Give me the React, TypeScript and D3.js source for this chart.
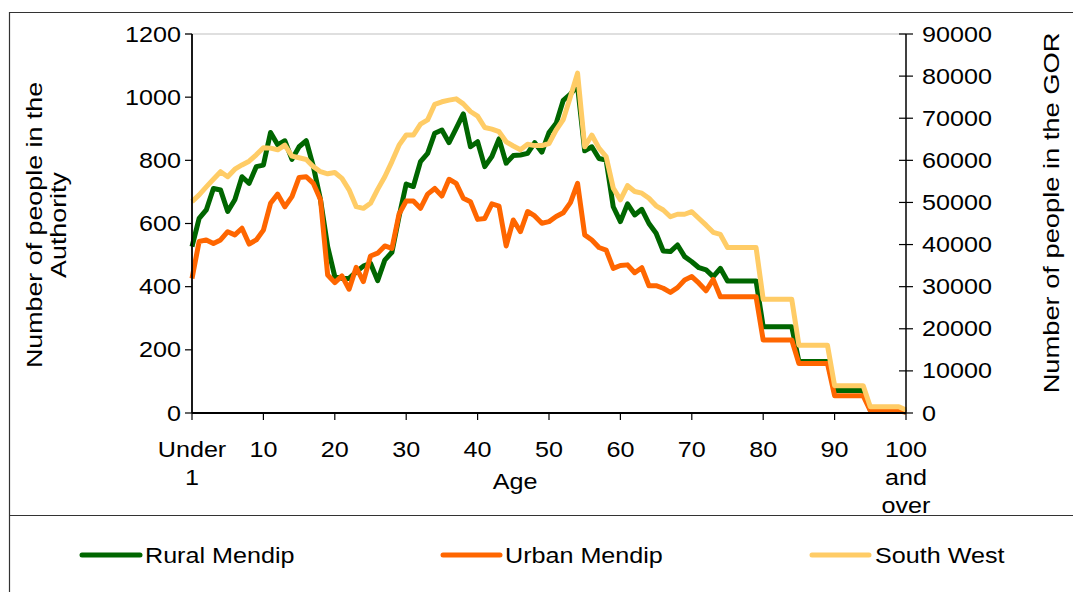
import React from "react";
import * as d3 from "d3";

const ages: number[] = Array.from({ length: 101 }, (_, i) => i);

const xTickAges = [0, 10, 20, 30, 40, 50, 60, 70, 80, 90, 100];
const xTickLabels: string[][] = [
  ["Under", "1"], ["10"], ["20"], ["30"], ["40"], ["50"], ["60"], ["70"], ["80"], ["90"], ["100", "and", "over"],
];
const leftTicks = [0, 200, 400, 600, 800, 1000, 1200];
const rightTicks = [0, 10000, 20000, 30000, 40000, 50000, 60000, 70000, 80000, 90000];

const ruralMendip: number[] = [
  527, 616, 643, 711, 706, 638, 675, 748, 727, 780,
  785, 888, 849, 862, 803, 843, 862, 780, 675, 527,
  432, 426, 426, 447, 465, 474, 419, 484, 509, 622,
  725, 717, 796, 822, 886, 896, 856, 901, 947, 843,
  859, 780, 812, 868, 791, 815, 817, 822, 856, 826,
  888, 917, 990, 1010, 1035, 830, 843, 806, 801, 653,
  606, 662, 627, 645, 600, 569, 513, 511, 532, 495,
  479, 460, 453, 432, 458, 418, 418, 418, 418, 418,
  273, 273, 273, 273, 273, 163, 163, 163, 163, 163,
  71, 71, 71, 71, 71, 10, 10, 10, 10, 10,
  3,
];

const urbanMendip: number[] = [
  426, 543, 548, 537, 548, 574, 564, 585, 535, 548,
  579, 664, 693, 653, 685, 746, 748, 727, 675, 437,
  413, 434, 392, 461, 416, 497, 506, 529, 521, 630,
  671, 671, 648, 693, 711, 687, 740, 727, 680, 669,
  613, 616, 662, 655, 529, 611, 574, 638, 624, 601,
  606, 622, 634, 666, 727, 564, 548, 524, 516, 458,
  467, 469, 444, 460, 403, 403, 395, 382, 397, 421,
  432, 411, 387, 423, 368, 368, 368, 368, 368, 368,
  231, 231, 231, 231, 231, 157, 157, 157, 157, 157,
  55, 55, 55, 55, 55, 7, 7, 7, 7, 7,
  2,
];

const southWest: number[] = [
  50200, 51800, 53700, 55500, 57300, 56100, 57900, 58900, 59800, 61300,
  63000, 62900, 62500, 63600, 61000, 60600, 60200, 58500, 57300, 56800,
  57100, 55700, 53000, 49000, 48600, 49800, 53100, 56100, 59700, 63600,
  66000, 66000, 68600, 69600, 73300, 73900, 74300, 74600, 73400, 71600,
  70500, 67800, 67400, 66800, 64400, 63400, 62500, 63800, 63500, 63500,
  64000, 67200, 69700, 75100, 80700, 63200, 66000, 62900, 60900, 53400,
  50600, 54000, 52600, 52200, 51000, 49200, 48200, 46600, 47200, 47200,
  47800, 46200, 44600, 42900, 42400, 39300, 39300, 39300, 39300, 39300,
  27000, 27000, 27000, 27000, 27000, 16100, 16100, 16100, 16100, 16100,
  6500, 6500, 6500, 6500, 6500, 1500, 1500, 1500, 1500, 1500,
  700,
];

const seriesNames = ["Rural Mendip", "Urban Mendip", "South West"];
const seriesColors = ["#006600", "#FF6600", "#FFCC66"];

const W = 1073;
const H = 592;
const L = 192, R = 906, T = 34, B = 413;
const FONT = "'Liberation Sans', Arial, sans-serif";

function Txt(props: { x: number; y: number; anchor?: string; rotate?: number; fs?: number; sx?: number; children: React.ReactNode }) {
  const { x, y, anchor = "start", rotate = 0, fs = 21.5, sx = 1.17, children } = props;
  return (
    <text
      transform={`translate(${x},${y}) rotate(${rotate}) scale(${sx},1)`}
      textAnchor={anchor as any}
      fontFamily={FONT}
      fontSize={fs}
      fill="#000"
    >
      {children}
    </text>
  );
}

export default function App() {
  const x = d3.scaleLinear().domain([0, 100]).range([L, R]);
  const yL = d3.scaleLinear().domain([0, 1200]).range([B, T]);
  const yR = d3.scaleLinear().domain([0, 90000]).range([B, T]);

  const lineL = d3.line<number>().x((_, i) => x(ages[i])).y((d) => yL(d));
  const lineR = d3.line<number>().x((_, i) => x(ages[i])).y((d) => yR(d));

  const paths = [
    { d: lineL(ruralMendip) || "", c: seriesColors[0] },
    { d: lineL(urbanMendip) || "", c: seriesColors[1] },
    { d: lineR(southWest) || "", c: seriesColors[2] },
  ];

  const legendItems = [
    { x1: 82, x2: 140, tx: 145 },
    { x1: 443, x2: 500, tx: 505 },
    { x1: 812, x2: 869, tx: 875 },
  ];

  return (
    <svg width={W} height={H} style={{ position: "absolute", left: 0, top: 0 }}>
      <rect x={0} y={0} width={W} height={H} fill="#fff" />
      {/* outer frame */}
      <line x1={9.5} y1={12} x2={9.5} y2={H} stroke="#333" strokeWidth={1.2} />
      <line x1={9} y1={12.5} x2={W} y2={12.5} stroke="#333" strokeWidth={1.2} />
      <line x1={9} y1={515.5} x2={W} y2={515.5} stroke="#333" strokeWidth={1.2} />

      {/* plot top border */}
      <line x1={185} y1={T} x2={R} y2={T} stroke="#c0c0c0" strokeWidth={1.2} />

      {/* series */}
      {paths.map((p, i) => (
        <path key={i} d={p.d} fill="none" stroke={p.c} strokeWidth={5} strokeLinejoin="round" />
      ))}

      {/* left axis */}
      <line x1={L} y1={T} x2={L} y2={B} stroke="#000" strokeWidth={1.8} />
      {leftTicks.map((t) => (
        <g key={t}>
          <line x1={185} x2={L} y1={yL(t)} y2={yL(t)} stroke="#000" strokeWidth={1.2} />
          <Txt x={181} y={yL(t) + 7.5} anchor="end">{t}</Txt>
        </g>
      ))}

      {/* right axis */}
      <line x1={R} y1={T} x2={R} y2={B} stroke="#000" strokeWidth={1.5} />
      {rightTicks.map((t) => (
        <g key={t}>
          <line x1={R - 7} x2={R + 7} y1={yR(t)} y2={yR(t)} stroke="#000" strokeWidth={1.2} />
          <Txt x={922} y={yR(t) + 7.5}>{t}</Txt>
        </g>
      ))}

      {/* x axis */}
      <line x1={L} y1={B} x2={R} y2={B} stroke="#000" strokeWidth={1.8} />
      {xTickAges.map((a, i) => (
        <g key={a}>
          <line x1={x(a)} x2={x(a)} y1={B} y2={B + 7} stroke="#000" strokeWidth={1.2} />
          {xTickLabels[i].map((s, j) => (
            <Txt key={j} x={x(a)} y={457 + j * 28} anchor="middle">{s}</Txt>
          ))}
        </g>
      ))}
      <Txt x={515} y={489} anchor="middle">Age</Txt>

      {/* axis titles */}
      <Txt x={42} y={225} anchor="middle" rotate={-90} fs={22} sx={1.22}>Number of people in the</Txt>
      <Txt x={66} y={225} anchor="middle" rotate={-90} fs={22} sx={1.22}>Authority</Txt>
      <Txt x={1059} y={213} anchor="middle" rotate={-90} fs={22} sx={1.24}>Number of people in the GOR</Txt>

      {/* legend */}
      {legendItems.map((it, i) => (
        <g key={i}>
          <line x1={it.x1} x2={it.x2} y1={555} y2={555} stroke={seriesColors[i]} strokeWidth={5} strokeLinecap="round" />
          <Txt x={it.tx} y={563}>{seriesNames[i]}</Txt>
        </g>
      ))}
    </svg>
  );
}
